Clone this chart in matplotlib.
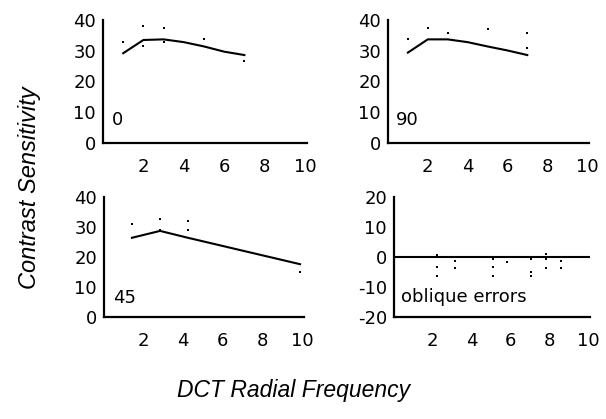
import matplotlib
matplotlib.use("Agg")
import matplotlib.pyplot as plt

plt.rcParams['font.family'] = ['DejaVu Sans']
plt.rcParams['axes.unicode_minus'] = False

# ---- data ----
freq_0 = [1, 2, 3, 4, 5, 6, 7]
fit_0 = [29.2, 33.5, 33.7, 32.8, 31.4, 29.7, 28.6]
dots_0_x = [1, 2, 2, 3, 3, 5, 7]
dots_0_y = [33.0, 38.1, 31.4, 37.3, 33.0, 33.8, 26.8]

freq_90 = [1, 2, 3, 4, 5, 6, 7]
fit_90 = [29.4, 33.7, 33.7, 32.8, 31.4, 30.1, 28.6]
dots_90_x = [1, 2, 3, 5, 7, 7]
dots_90_y = [33.7, 37.3, 35.7, 37.0, 35.7, 31.0]

freq_45 = [1.41, 2.83, 4.24, 5.66, 7.07, 8.49, 9.9]
fit_45 = [26.4, 28.7, 26.4, 24.2, 22.0, 19.8, 17.6]
dots_45_x = [1.41, 2.83, 2.83, 4.24, 4.24, 7.07, 9.9]
dots_45_y = [31.1, 32.8, 28.9, 31.9, 29.1, 22.0, 15.0]

err_x = [2.24, 2.24, 2.24, 3.16, 3.16, 5.1, 5.1, 5.1, 5.83, 7.07, 7.07, 7.07,
         7.81, 7.81, 7.81, 8.6, 8.6]
err_y = [0.7, -3.3, -6.3, -1.3, -3.8, -0.8, -3.3, -6.3, -1.7, -0.8, -5.0, -6.3,
         0.9, -0.8, -3.6, -1.3, -3.8]

xticks = [2, 4, 6, 8, 10]
yticks_top = [0, 10, 20, 30, 40]
yticks_err = [-20, -10, 0, 10, 20]

W, H = 606, 419
fig = plt.figure(figsize=(W / 100, H / 100), dpi=100)

def px_axes(x0, x1, ytop, ybot):
    return fig.add_axes([x0 / W, 1 - ybot / H, (x1 - x0) / W, (ybot - ytop) / H])

def style(ax, yticks, ylim):
    ax.set_xlim(0, 10.1)
    ax.set_ylim(*ylim)
    ax.set_xticks(xticks)
    ax.set_yticks(yticks)
    for s in ['top', 'right']:
        ax.spines[s].set_visible(False)
    for s in ['left', 'bottom']:
        ax.spines[s].set_linewidth(1.6)
    ax.tick_params(axis='x', length=0, pad=11, labelsize=13)
    ax.tick_params(axis='y', length=0, pad=5, labelsize=13)

LW = 1.5
MS = 1.6

ax1 = px_axes(103, 307, 20, 143)
style(ax1, yticks_top, (0, 40))
ax1.plot(freq_0, fit_0, color='black', lw=LW)
ax1.plot(dots_0_x, dots_0_y, 's', color='black', ms=MS, mew=0)
ax1.text(0.45, 7.5, '0', fontsize=13, va='center')

ax2 = px_axes(388, 589, 20, 143)
style(ax2, yticks_top, (0, 40))
ax2.plot(freq_90, fit_90, color='black', lw=LW)
ax2.plot(dots_90_x, dots_90_y, 's', color='black', ms=MS, mew=0)
ax2.text(0.4, 7.5, '90', fontsize=13, va='center')

ax3 = px_axes(104, 304, 197, 317)
style(ax3, yticks_top, (0, 40))
ax3.plot(freq_45, fit_45, color='black', lw=LW)
ax3.plot(dots_45_x, dots_45_y, 's', color='black', ms=MS, mew=0)
ax3.text(0.45, 6.5, '45', fontsize=13, va='center')

ax4 = px_axes(394, 590, 197, 317)
style(ax4, yticks_err, (-20, 20))
ax4.axhline(0, color='black', lw=LW)
ax4.plot(err_x, err_y, 's', color='black', ms=MS, mew=0)
ax4.text(0.35, -13.3, 'oblique errors', fontsize=13, va='center')

lab_font = ['Liberation Sans']
fig.text(294 / W, 1 - 390 / H, 'DCT Radial Frequency', fontsize=16.5,
         style='italic', ha='center', va='center', family=lab_font)
fig.text(30 / W, 1 - 188 / H, 'Contrast Sensitivity', fontsize=17,
         style='italic', ha='center', va='center', rotation=90, family=lab_font)

fig.savefig('out.png', dpi=100)
